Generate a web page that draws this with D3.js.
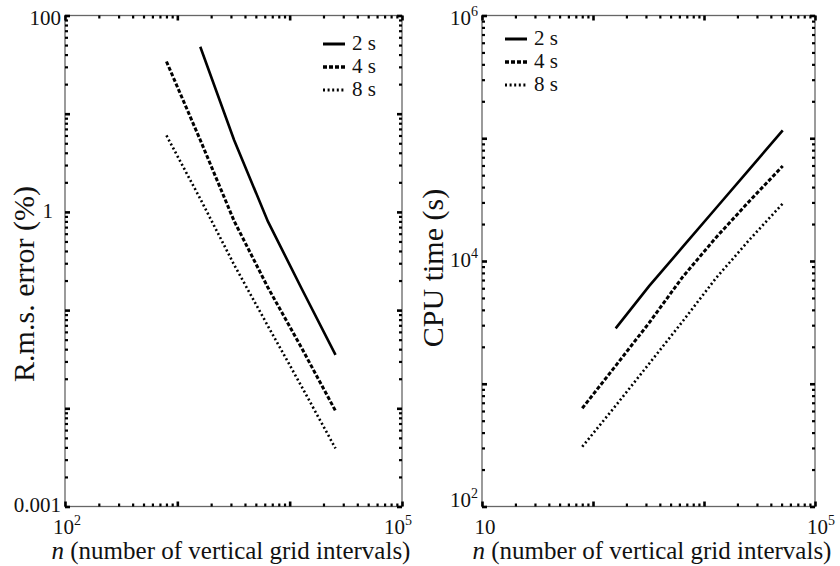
<!DOCTYPE html>
<html>
<head>
<meta charset="utf-8">
<script src="https://cdn.jsdelivr.net/npm/d3@7"></script>
<style>
  body { margin: 0; background: #fff; }
</style>
</head>
<body>
<svg id="chart" width="840" height="566"></svg>
<script>
// grid sizes (number of vertical grid intervals)
const nErr = [800, 1600, 3200, 6400, 12800, 25600];
const nCpu = [800, 1600, 3200, 6400, 12800, 25600, 51200];

// r.m.s. error (%) for each time step
const err2s = [null, 48, 5.4, 0.80, 0.165, 0.035];
const err4s = [34, 5.4, 0.81, 0.17, 0.041, 0.0094];
const err8s = [6.0, 1.36, 0.29, 0.069, 0.0166, 0.0039];

// cpu time (s) for each time step
const cpu2s = [null, 2825, 6240, 12950, 26900, 55800, 115900];
const cpu4s = [631, 1400, 3130, 7380, 15500, 30700, 59400];
const cpu8s = [307, 662, 1455, 3210, 7240, 14860, 29380];

const seriesNames = ["2 s", "4 s", "8 s"];

const FONT = "'Liberation Serif', 'Times New Roman', 'DejaVu Serif', serif";

const styles = [
  {width: 2.6, dash: null},
  {width: 3, dash: "4,2"},
  {width: 2.6, dash: "2,2.6"}
];

let svg = d3.select("#chart");

// minor + major log ticks for a decade range
function logTicks(lo, hi){
  let major = [], minor = [];
  for (let e = lo; e <= hi; e++){
    major.push(Math.pow(10, e));
    if (e < hi) for (let m = 2; m <= 9; m++) minor.push(m * Math.pow(10, e));
  }
  return {major, minor};
}

function txt(g, size){
  return g.append("text")
    .attr("fill", "#111")
    .style("font-family", FONT)
    .style("font-size", size + "px");
}

// label text with optional superscript
function addLabel(g, x, y, base, sup, anchor){
  let t = txt(g, 21)
    .attr("x", x).attr("y", y)
    .attr("text-anchor", anchor);
  t.append("tspan").text(base);
  if (sup) t.append("tspan").attr("dy", -9).style("font-size", "14px").text(sup);
  return t;
}

function drawPanel(cfg){
  let x = d3.scaleLog().domain(cfg.xDomain).range([cfg.left, cfg.right]);
  let y = d3.scaleLog().domain(cfg.yDomain).range([cfg.bottom, cfg.top]);
  let g = svg.append("g");

  let xt = logTicks(Math.log10(cfg.xDomain[0]), Math.log10(cfg.xDomain[1]));
  let yt = logTicks(Math.log10(cfg.yDomain[0]), Math.log10(cfg.yDomain[1]));

  g.append("rect")
    .attr("x", cfg.left).attr("y", cfg.top)
    .attr("width", cfg.right - cfg.left).attr("height", cfg.bottom - cfg.top)
    .attr("fill", "none").attr("stroke", "#666").attr("stroke-width", 1.3);

  // ticks pointing inward on all four sides
  let axes = [
    [d3.axisBottom(x), cfg.bottom, "x"],
    [d3.axisTop(x), cfg.top, "x"],
    [d3.axisLeft(y), cfg.left, "y"],
    [d3.axisRight(y), cfg.right, "y"]
  ];
  axes.forEach(([ax, pos, dir]) => {
    let tk = dir === "x" ? xt : yt;
    [[tk.minor, 3, 2.2], [tk.major, 5, 2.6]].forEach(([vals, len, w]) => {
      let a = g.append("g")
        .attr("transform", dir === "x" ? `translate(0,${pos})` : `translate(${pos},0)`)
        .call(ax.tickValues(vals).tickSize(-len).tickSizeOuter(0).tickFormat(""));
      a.select(".domain").remove();
      a.selectAll("line").attr("stroke", "#000").attr("stroke-width", w);
    });
  });

  // series lines
  let line = d3.line()
    .defined(d => d[1] != null)
    .x(d => x(d[0])).y(d => y(d[1]));
  cfg.series.forEach((vals, i) => {
    g.append("path")
      .datum(cfg.n.map((v, j) => [v, vals[j]]))
      .attr("d", line)
      .attr("fill", "none")
      .attr("stroke", "#000")
      .attr("stroke-width", styles[i].width)
      .attr("stroke-dasharray", styles[i].dash);
  });

  // legend
  seriesNames.forEach((name, i) => {
    let ly = cfg.legendY + i * 23;
    g.append("line")
      .attr("x1", cfg.legendX).attr("x2", cfg.legendX + 22)
      .attr("y1", ly).attr("y2", ly)
      .attr("stroke", "#000")
      .attr("stroke-width", styles[i].width + 0.4)
      .attr("stroke-dasharray", styles[i].dash);
    txt(g, 21)
      .attr("x", cfg.legendX + 29).attr("y", ly + 6)
      .text(name);
  });

  // tick labels
  cfg.yLabels.forEach(l => addLabel(g, cfg.left - 4 + (l.dx || 0), y(l.v) + l.dy, l.base, l.sup, "end"));
  cfg.xLabels.forEach(l => addLabel(g, x(l.v) + (l.dx || 0), cfg.bottom + 27, l.base, l.sup, "middle"));

  // axis titles
  txt(g, 30)
    .attr("transform", `translate(${cfg.yTitleX},${cfg.yTitleY}) rotate(-90)`)
    .attr("text-anchor", "middle")
    .text(cfg.yTitle);
  let xt2 = txt(g, 25)
    .attr("x", cfg.xTitleX).attr("y", 559)
    .attr("text-anchor", "middle");
  xt2.append("tspan").style("font-style", "italic").text("n");
  xt2.append("tspan").text(" (number of vertical grid intervals)");
}

drawPanel({
  left: 65, right: 402, top: 15.5, bottom: 506.5,
  xDomain: [1e2, 1e5], yDomain: [1e-3, 1e2],
  n: nErr, series: [err2s, err4s, err8s],
  legendX: 323, legendY: 44,
  yLabels: [
    {v: 100, base: "100", dy: 9},
    {v: 1, base: "1", dy: 6, dx: -8},
    {v: 0.001, base: "0.001", dy: 5}
  ],
  xLabels: [
    {v: 1e2, base: "10", sup: "2", dx: 2},
    {v: 1e5, base: "10", sup: "5", dx: -4}
  ],
  yTitle: "R.m.s. error (%)", yTitleX: 34, yTitleY: 284,
  xTitleX: 231
});

drawPanel({
  left: 482, right: 815, top: 15.5, bottom: 506.5,
  xDomain: [1e2, 1e5], yDomain: [1e2, 1e6],
  n: nCpu, series: [cpu2s, cpu4s, cpu8s],
  legendX: 505, legendY: 39,
  yLabels: [
    {v: 1e6, base: "10", sup: "6", dy: 9},
    {v: 1e4, base: "10", sup: "4", dy: 6},
    {v: 1e2, base: "10", sup: "2", dy: 0}
  ],
  xLabels: [
    {v: 1e2, base: "10", dx: 3},
    {v: 1e5, base: "10", sup: "5", dx: 6}
  ],
  yTitle: "CPU time (s)", yTitleX: 443, yTitleY: 268,
  xTitleX: 652
});
</script>
</body>
</html>
